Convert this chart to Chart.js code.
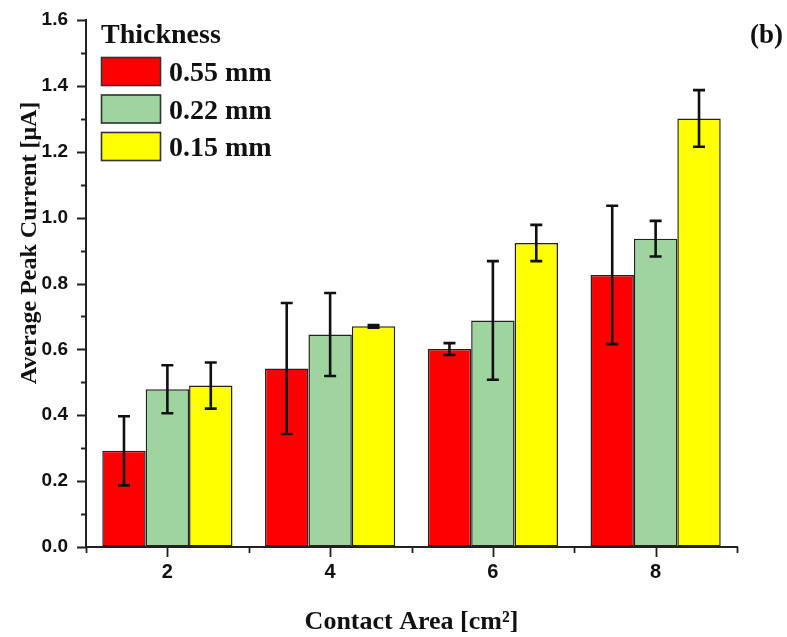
<!DOCTYPE html>
<html>
<head>
<meta charset="utf-8">
<script src="https://cdn.jsdelivr.net/npm/chart.js@4"></script>
<style>
  html, body { margin: 0; padding: 0; background: #ffffff; }
  canvas { display: block; }
</style>
</head>
<body>
<canvas id="chart" width="787" height="637"></canvas>
<script>
// Contact areas (cm²) on the category axis
const categories = ['2', '4', '6', '8'];

// Average peak current (µA) per sample thickness, with standard deviation
const thick055 = [0.292, 0.542, 0.601, 0.826];
const err055   = [0.105, 0.199, 0.018, 0.210];
const thick022 = [0.479, 0.645, 0.688, 0.936];
const err022   = [0.073, 0.126, 0.180, 0.054];
const thick015 = [0.490, 0.670, 0.923, 1.301];
const err015   = [0.070, 0.004, 0.055, 0.086];

const seriesLabels = ['0.55 mm', '0.22 mm', '0.15 mm'];
const legendTitle = 'Thickness';
const panelTag = '(b)';
const xTitle = 'Contact Area [cm²]';
const yTitle = 'Average Peak Current [μA]';

const Y_MIN = 0, Y_MAX = 1.6, Y_MINOR = 0.1;

const SERIF = '"Liberation Serif", "Times New Roman", serif';
const SANS = '"Liberation Sans", Arial, sans-serif';
const INK = '#111111';

// Vertical error bars with caps, placed on each bar through the scales
const errorBars = {
  id: 'errorBars',
  afterDatasetsDraw(chart) {
    const { ctx } = chart;
    const y = chart.scales.y;
    chart.data.datasets.forEach((ds, i) => {
      const meta = chart.getDatasetMeta(i);
      meta.data.forEach((bar, j) => {
        const v = ds.data[j], e = ds.errors[j];
        const yt = y.getPixelForValue(v + e);
        const yb = y.getPixelForValue(v - e);
        ctx.save();
        ctx.strokeStyle = INK;
        ctx.lineWidth = 2.6;
        ctx.beginPath();
        ctx.moveTo(bar.x, yt); ctx.lineTo(bar.x, yb);
        ctx.moveTo(bar.x - 6, yt); ctx.lineTo(bar.x + 6, yt);
        ctx.moveTo(bar.x - 6, yb); ctx.lineTo(bar.x + 6, yb);
        ctx.stroke();
        ctx.restore();
      });
    });
  }
};

// Outward major/minor tick marks on both axes
const tickMarks = {
  id: 'tickMarks',
  afterDraw(chart) {
    const { ctx, chartArea } = chart;
    const x = chart.scales.x, y = chart.scales.y;
    ctx.save();
    ctx.strokeStyle = '#222222';
    ctx.lineWidth = 1.8;
    ctx.beginPath();
    const steps = Math.round((Y_MAX - Y_MIN) / Y_MINOR);
    for (let k = 0; k <= steps; k++) {
      const py = Math.round(y.getPixelForValue(Y_MIN + k * Y_MINOR)) + 0.5;
      const len = k % 2 === 0 ? 9 : 5;
      ctx.moveTo(chartArea.left - len, py);
      ctx.lineTo(chartArea.left, py);
    }
    const n = categories.length;
    const step = x.getPixelForValue(1) - x.getPixelForValue(0);
    for (let i = 0; i < n; i++) {
      const cx = Math.round(x.getPixelForValue(i)) + 0.5;
      ctx.moveTo(cx, chartArea.bottom);
      ctx.lineTo(cx, chartArea.bottom + 10);
    }
    for (let i = 0; i <= n; i++) {
      const bx = Math.round(x.getPixelForValue(0) + (i - 0.5) * step) + 0.5;
      ctx.moveTo(bx, chartArea.bottom);
      ctx.lineTo(bx, chartArea.bottom + 6);
    }
    ctx.stroke();
    ctx.restore();
  }
};

// Axis titles, legend block and panel tag
const annotations = {
  id: 'annotations',
  afterDraw(chart) {
    const { ctx, chartArea } = chart;
    ctx.save();
    ctx.fillStyle = INK;

    // x title
    ctx.font = 'bold 26px ' + SERIF;
    ctx.textAlign = 'center';
    ctx.textBaseline = 'alphabetic';
    ctx.fillText(xTitle, (chartArea.left + chartArea.right) / 2, 629);

    // y title
    ctx.save();
    ctx.translate(36, 243);
    ctx.rotate(-Math.PI / 2);
    ctx.font = 'bold 24px ' + SERIF;
    ctx.textAlign = 'center';
    ctx.textBaseline = 'alphabetic';
    ctx.fillText(yTitle, 0, 0);
    ctx.restore();

    // panel tag
    ctx.font = 'bold 27px ' + SERIF;
    ctx.textAlign = 'right';
    ctx.fillText(panelTag, 783, 43);

    // legend
    ctx.textAlign = 'left';
    ctx.font = 'bold 28px ' + SERIF;
    ctx.fillText(legendTitle, 101, 43);
    chart.data.datasets.forEach((ds, i) => {
      const top = 57 + i * 37.5;
      ctx.fillStyle = ds.backgroundColor;
      ctx.fillRect(101, top, 60, 29);
      ctx.strokeStyle = '#333333';
      ctx.lineWidth = 1.6;
      ctx.strokeRect(101.5, top + 0.5, 59, 28);
      ctx.fillStyle = INK;
      ctx.font = 'bold 28px ' + SERIF;
      ctx.fillText(ds.label, 169, top + 24);
    });
    ctx.restore();
  }
};

const barStyle = { borderColor: '#222222', borderWidth: 1.5, borderSkipped: false };

new Chart(document.getElementById('chart'), {
  type: 'bar',
  data: {
    labels: categories,
    datasets: [
      { label: seriesLabels[0], data: thick055, errors: err055, backgroundColor: '#FF0000', ...barStyle },
      { label: seriesLabels[1], data: thick022, errors: err022, backgroundColor: '#9ED59E', ...barStyle },
      { label: seriesLabels[2], data: thick015, errors: err015, backgroundColor: '#FFFF00', ...barStyle }
    ]
  },
  options: {
    responsive: false,
    animation: false,
    devicePixelRatio: 1,
    layout: { padding: { left: 0, top: 20, right: 50, bottom: 0 } },
    datasets: { bar: { categoryPercentage: 0.8, barPercentage: 1.0 } },
    plugins: {
      legend: { display: false },
      tooltip: { enabled: false }
    },
    scales: {
      x: {
        type: 'category',
        offset: true,
        grid: { display: true, drawOnChartArea: false, drawTicks: false },
        border: { display: true, color: '#222222', width: 2 },
        ticks: { color: INK, padding: 13, font: { family: SANS, size: 20, weight: 'bold' } },
        afterFit(scale) {
          scale.height = 90;
          scale.paddingLeft = 0;
          scale.paddingRight = 0;
        }
      },
      y: {
        min: Y_MIN,
        max: Y_MAX,
        grid: { display: true, drawOnChartArea: false, drawTicks: false },
        border: { display: true, color: '#222222', width: 2 },
        ticks: {
          stepSize: 0.2,
          color: INK,
          padding: 18,
          font: { family: SANS, size: 19, weight: 'bold' },
          callback: (v) => Number(v).toFixed(1)
        },
        afterFit(scale) {
          scale.width = 86;
          scale.paddingTop = 0;
          scale.paddingBottom = 0;
        }
      }
    }
  },
  plugins: [errorBars, tickMarks, annotations]
});
</script>
</body>
</html>
